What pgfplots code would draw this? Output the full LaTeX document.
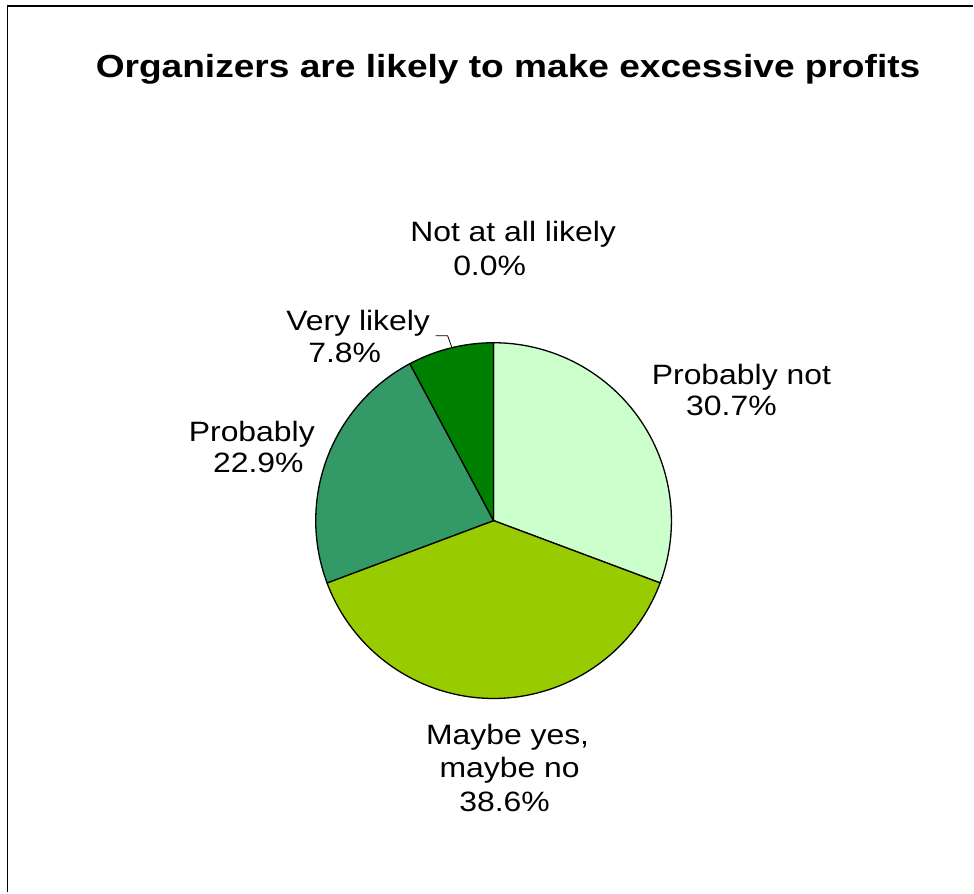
\documentclass[border=0pt]{standalone}
\usepackage{pgfplots}
\pgfplotsset{compat=1.18}
\usepackage{pgfplotstable}
\usepackage{fontspec}
\setmainfont{Liberation Sans}
\usepackage{graphicx}

\definecolor{cPnot}{HTML}{CCFFCC}
\definecolor{cMaybe}{HTML}{99CC00}
\definecolor{cProb}{HTML}{339966}
\definecolor{cVery}{HTML}{008000}
\definecolor{cNot}{HTML}{006600}

\pgfplotstableread[col sep=comma]{
label,value,color
Probably not,30.7,cPnot
Maybe yes maybe no,38.6,cMaybe
Probably,22.9,cProb
Very likely,7.8,cVery
Not at all likely,0.0,cNot
}\piedata

\newcommand{\lab}[1]{\scalebox{1.14}[1]{\fontsize{28}{32}\selectfont #1}}
\newcommand{\ttl}[1]{\scalebox{1.16}[1]{\fontsize{32}{38}\selectfont\bfseries #1}}

\begin{document}
\begin{tikzpicture}
\begin{axis}[
  hide axis, scale only axis,
  width=974pt, height=893pt,
  xmin=0, xmax=974, ymin=0, ymax=893,
  y dir=reverse,
  anchor=north west, at={(0,0)},
  clip=false,
]
\path (axis cs:0,0) rectangle (axis cs:974,893);
% frame
\draw[black, line width=1.6pt] (axis cs:7.5,893) -- (axis cs:7.5,6) -- (axis cs:974,6);

% pie slices from data
\pgfplotstablegetrowsof{\piedata}
\pgfmathtruncatemacro\N{\pgfplotsretval-1}
\gdef\cumangle{90}
\pgfplotsforeachungrouped \i in {0,...,\N}{%
  \pgfplotstablegetelem{\i}{value}\of\piedata \let\v\pgfplotsretval
  \pgfplotstablegetelem{\i}{color}\of\piedata \let\c\pgfplotsretval
  \pgfmathsetmacro\endangle{\cumangle-3.6*\v}%
  \ifdim\v pt>0pt
    \edef\temp{\noexpand\filldraw[fill=\c,draw=black,line width=1.3pt,line join=round] (axis cs:494,521) -- ++(\cumangle:178pt) arc[start angle=\cumangle,end angle=\endangle,radius=178pt] -- cycle;}%
    \temp
  \fi
  \global\let\cumangle\endangle
}

% leader line
\draw[black, line width=0.8pt] (axis cs:436,336) -- (axis cs:448,336) -- (axis cs:452,347);

% title
\node[anchor=base, inner sep=0] at (axis cs:508.5,78) {\ttl{Organizers are likely to make excessive profits}};

% labels
\node[anchor=base, inner sep=0] at (axis cs:513.5,242) {\lab{Not at all likely}};
\node[anchor=base, inner sep=0] at (axis cs:490,276) {\lab{0.0\%}};
\node[anchor=base, inner sep=0] at (axis cs:358.5,331) {\lab{Very likely}};
\node[anchor=base, inner sep=0] at (axis cs:345,363) {\lab{7.8\%}};
\node[anchor=base, inner sep=0] at (axis cs:252,442) {\lab{Probably}};
\node[anchor=base, inner sep=0] at (axis cs:258.5,473) {\lab{22.9\%}};
\node[anchor=base, inner sep=0] at (axis cs:742,385) {\lab{Probably not}};
\node[anchor=base, inner sep=0] at (axis cs:732,416) {\lab{30.7\%}};
\node[anchor=base, inner sep=0] at (axis cs:508,745) {\lab{Maybe yes,}};
\node[anchor=base, inner sep=0] at (axis cs:510,778) {\lab{maybe no}};
\node[anchor=base, inner sep=0] at (axis cs:505,812) {\lab{38.6\%}};
\end{axis}
\end{tikzpicture}
\end{document}
